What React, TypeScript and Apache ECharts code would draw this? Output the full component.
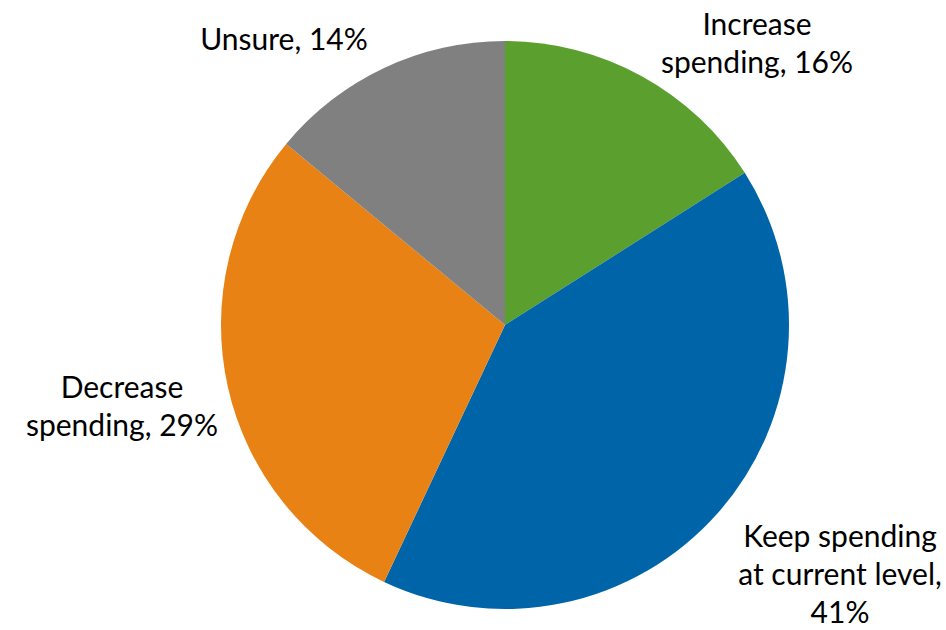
import React, { useEffect, useRef } from "react";
import * as echarts from "echarts";

const categories = ["Increase spending", "Keep spending at current level", "Decrease spending", "Unsure"];
const values = [16, 41, 29, 14];
const colors = ["#5B9F2F", "#0064A8", "#E88214", "#808080"];
const labelTexts = ["Increase\nspending, 16%", "Keep spending\nat current level,\n41%", "Decrease\nspending, 29%", "Unsure, 14%"];
const labelCenters = [
  [757, 42],
  [840, 573],
  [122, 405],
  [284, 38],
];

export default function App() {
  const ref = useRef<HTMLDivElement>(null);
  useEffect(() => {
    const chart = echarts.init(ref.current!, null, { renderer: "svg" });
    chart.setOption({
      animation: false,
      backgroundColor: "#ffffff",
      series: [
        {
          type: "pie",
          center: [505, 325],
          radius: 284,
          startAngle: 90,
          clockwise: true,
          avoidLabelOverlap: false,
          data: values.map((v, i) => ({
            value: v,
            name: categories[i],
            itemStyle: { color: colors[i] },
          })),
          label: {
            show: true,
            position: "outside",
            formatter: (p: any) => labelTexts[p.dataIndex],
            fontFamily: "Lato, 'Open Sans', sans-serif",
            fontSize: 30,
            lineHeight: 38,
            color: "#000000",
            align: "center",
          },
          labelLine: { show: false },
          labelLayout: (p: any) => ({
            x: labelCenters[p.dataIndex][0],
            y: labelCenters[p.dataIndex][1],
            align: "center",
            verticalAlign: "middle",
          }),
          emphasis: { disabled: true },
        },
      ],
    });
    return () => chart.dispose();
  }, []);
  return <div ref={ref} style={{ position: "fixed", left: 0, top: 0, width: 946, height: 630 }} />;
}
